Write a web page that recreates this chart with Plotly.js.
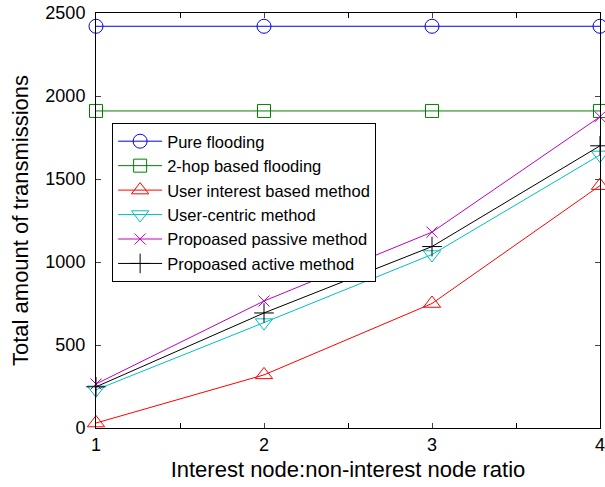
<!DOCTYPE html>
<html><head><meta charset="utf-8">
<script src="https://cdn.plot.ly/plotly-3.0.1.min.js"></script>
<style>html,body{margin:0;padding:0;background:#fff}</style>
</head><body><div id="chart" style="width:605px;height:487px"></div>
<script>
const ratios = [1, 2, 3, 4];
const pureFlooding = [2420, 2420, 2420, 2420];
const twoHopFlooding = [1910, 1910, 1910, 1910];
const userInterest = [30, 320, 750, 1460];
const userCentric = [230, 635, 1045, 1645];
const passiveMethod = [265, 765, 1180, 1875];
const activeMethod = [248, 693, 1093, 1700];

const names = ["Pure flooding","2-hop based flooding","User interest based method","User-centric method","Propoased passive method","Propoased active method"];
const series = [pureFlooding, twoHopFlooding, userInterest, userCentric, passiveMethod, activeMethod];
const colors = ["#0000ff","#008000","#ff0000","#00bfbf","#bf00bf","#000000"];
const symbols = ["circle-open","square-open","triangle-up-open","triangle-down-open","x-thin-open","cross-thin-open"];
const sizes = [14, 13, 15, 15, 11, 14];

const traces = series.map((s, i) => ({
  x: ratios, y: s, name: names[i], mode: "lines+markers", type: "scatter",
  line: {color: colors[i], width: 1},
  marker: {symbol: symbols[i], size: sizes[i], color: colors[i], line: {color: colors[i], width: 1}},
  cliponaxis: false
}));

const layout = {
  width: 605, height: 487,
  margin: {l: 96, r: 5, t: 13, b: 59},
  paper_bgcolor: "#fff", plot_bgcolor: "#fff",
  font: {family: "Liberation Sans, Arial, sans-serif", color: "#000"},
  showlegend: true,
  legend: {x: 0.032, y: 0.735, xanchor: "left", yanchor: "top", bgcolor: "#fff",
    bordercolor: "#000", borderwidth: 1, font: {size: 16.5, color: "#000"}, tracegroupgap: 0, itemwidth: 44},
  xaxis: {range: [1, 4], tickvals: ratios, ticktext: ["1","2","3","4"], ticks: "inside", ticklen: 5,
    ticklabeloverflow: "allow",
    minor: {tickvals: [1.5, 2.5, 3.5], ticks: "inside", ticklen: 5, tickcolor: "#000"},
    showline: true, linecolor: "#000", linewidth: 1, mirror: "ticks", showgrid: false, zeroline: false,
    tickfont: {size: 18}, title: {text: "Interest node:non-interest node ratio", font: {size: 22}, standoff: 8}},
  yaxis: {range: [0, 2500], tickvals: [0,500,1000,1500,2000,2500], ticks: "inside", ticklen: 5,
    ticklabeloverflow: "allow",
    showline: true, linecolor: "#000", linewidth: 1, mirror: "ticks", showgrid: false, zeroline: false,
    tickfont: {size: 18}, ticklabelstandoff: 6, title: {text: "Total amount of transmissions", font: {size: 22}, standoff: 10}}
};
Plotly.newPlot("chart", traces, layout, {displayModeBar: false});
</script></body></html>
